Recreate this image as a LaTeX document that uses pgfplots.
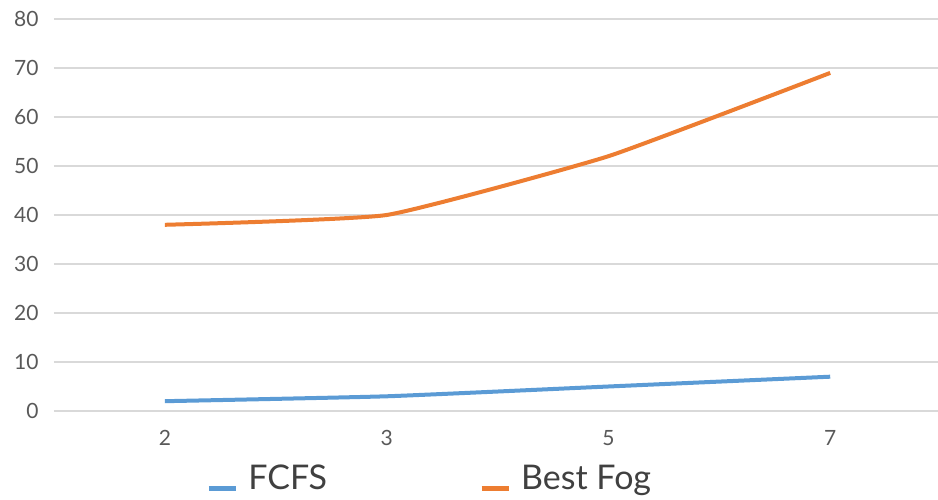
\documentclass[border=0pt]{standalone}
\usepackage{fontspec}
\setmainfont{Lato}
\usepackage{pgfplots}
\pgfplotsset{compat=1.18}

\definecolor{seriesblue}{HTML}{5B9BD5}
\definecolor{seriesorange}{HTML}{ED7D31}
\definecolor{gridgray}{HTML}{D9D9D9}
\definecolor{ticktext}{HTML}{595959}
\definecolor{legendtext}{HTML}{404040}

\begin{document}
\begin{tikzpicture}[x=1pt,y=1pt]
\path[use as bounding box] (0,0) rectangle (938,500);
\begin{axis}[
  at={(54pt,89pt)}, anchor=south west,
  scale only axis,
  width=884pt, height=392pt,
  xmin=-0.5, xmax=3.486,
  ymin=0, ymax=80,
  xtick={0,1,2,3},
  xticklabels={2,3,5,7},
  ytick={0,10,...,80},
  axis line style={draw=none},
  major tick length=0pt,
  ymajorgrids,
  grid style={gridgray, line width=1.6pt},
  tick label style={font=\fontsize{21}{23}\selectfont, text=ticktext},
  /pgf/number format/assume math mode=true,
  yticklabel style={xshift=-12pt},
  xticklabel style={yshift=-16pt},
  legend style={
    at={(0.425,-0.172)}, anchor=center,
    draw=none, fill=none,
    legend columns=2,
    font=\fontsize{34}{36}\selectfont,
    text=legendtext,
    inner ysep=0pt,
    /tikz/every odd column/.append style={column sep=8pt},
    /tikz/every even column/.append style={column sep=150pt},
  },
  legend image code/.code={
    \draw[#1, line width=5pt] (0pt,-10pt) -- (27pt,-10pt);
  },
]
\addplot[seriesblue, line width=4pt, smooth, tension=0.25]
  coordinates {(0,2) (1,3) (2,5) (3,7)};
\addlegendentry{FCFS}
\addplot[seriesorange, line width=4pt, smooth, tension=0.25]
  coordinates {(0,38) (1,40) (2,52) (3,69)};
\addlegendentry{Best Fog}
\end{axis}
\end{tikzpicture}
\end{document}
